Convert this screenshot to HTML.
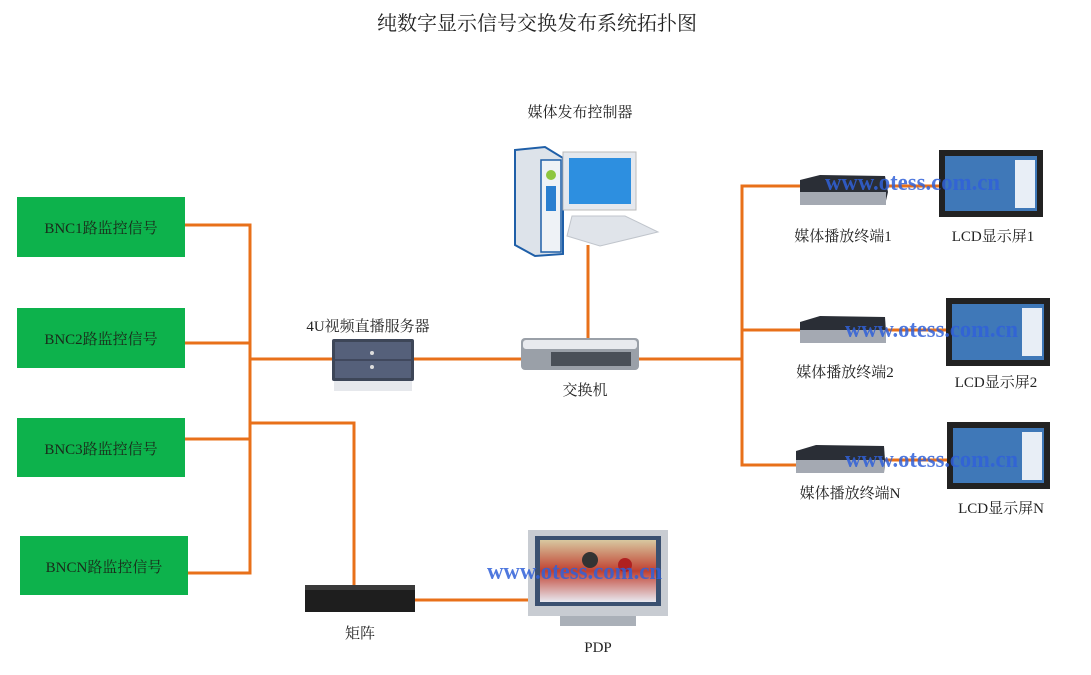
<!DOCTYPE html>
<html><head><meta charset="utf-8"><style>
html,body{margin:0;padding:0;background:#fff;}
body{width:1091px;height:670px;overflow:hidden;}
text{font-family:"Liberation Serif","Noto Serif CJK SC","Noto Sans CJK SC",serif;}
.lbl{font-size:15px;fill:#222;}
.g{font-size:15px;fill:#1a2a1a;}
.wm{font-family:"Liberation Serif",serif;font-weight:bold;font-size:24px;fill:#3060d8;fill-opacity:0.85;}
</style></head><body>
<svg width="1091" height="670" viewBox="0 0 1091 670" xmlns="http://www.w3.org/2000/svg">
<text x="537" y="30" text-anchor="middle" style="font-size:20px;fill:#222">纯数字显示信号交换发布系统拓扑图</text>

<g fill="#0db24c">
<rect x="17" y="197" width="168" height="60"/>
<rect x="17" y="308" width="168" height="60"/>
<rect x="17" y="418" width="168" height="59"/>
<rect x="20" y="536" width="168" height="59"/>
</g>
<text class="g" x="101" y="233" text-anchor="middle">BNC1路监控信号</text>
<text class="g" x="101" y="344" text-anchor="middle">BNC2路监控信号</text>
<text class="g" x="101" y="454" text-anchor="middle">BNC3路监控信号</text>
<text class="g" x="104" y="572" text-anchor="middle">BNCN路监控信号</text>

<g stroke="#e8701a" stroke-width="3" fill="none">
<polyline points="185,225 250,225 250,573 188,573"/>
<line x1="185" y1="343" x2="250" y2="343"/>
<line x1="185" y1="439" x2="250" y2="439"/>
<line x1="250" y1="359" x2="332" y2="359"/>
<polyline points="250,423 354,423 354,590"/>
<line x1="413" y1="359" x2="522" y2="359"/>
<line x1="588" y1="245" x2="588" y2="338"/>
<line x1="638" y1="359" x2="742" y2="359"/>
<polyline points="800,186 742,186 742,465 800,465"/>
<line x1="742" y1="330" x2="800" y2="330"/>
<line x1="885" y1="186" x2="940" y2="186"/>
<line x1="885" y1="330" x2="948" y2="330"/>
<line x1="885" y1="460" x2="948" y2="460"/>
<line x1="414" y1="600" x2="530" y2="600"/>
</g>

<text class="lbl" x="368" y="331" text-anchor="middle">4U视频直播服务器</text>
<rect x="332" y="339" width="82" height="42" rx="2" fill="#3d4658"/>
<rect x="335" y="342" width="76" height="36" fill="#55607a"/>
<line x1="335" y1="360" x2="411" y2="360" stroke="#2a3040"/>
<circle cx="372" cy="353" r="2" fill="#ddd"/><circle cx="372" cy="367" r="2" fill="#ddd"/>
<rect x="334" y="381" width="78" height="10" fill="#e6e8ec"/>

<text class="lbl" x="580" y="117" text-anchor="middle">媒体发布控制器</text>
<polygon points="515,150 545,147 563,158 563,254 535,256 515,245" fill="#dde3ea" stroke="#1f5fa8" stroke-width="2"/>
<rect x="541" y="160" width="20" height="92" fill="#eef2f6" stroke="#1f5fa8" stroke-width="1.5"/>
<circle cx="551" cy="175" r="5" fill="#8dc63f"/>
<rect x="546" y="186" width="10" height="25" fill="#2a7fd0"/>
<rect x="563" y="152" width="73" height="58" fill="#e4e8ee" stroke="#bbb"/>
<rect x="569" y="158" width="62" height="46" fill="#2d8fe0"/>
<polygon points="572,216 625,216 658,232 600,246 567,236" fill="#e0e4ea" stroke="#c0c5cc"/>

<rect x="521" y="338" width="118" height="32" rx="4" fill="#9aa0a8"/>
<rect x="523" y="340" width="114" height="9" rx="3" fill="#e8eaee"/>
<rect x="551" y="352" width="80" height="14" fill="#4a5058"/>
<text class="lbl" x="585" y="395" text-anchor="middle">交换机</text>

<g>
<polygon points="800,180 820,175 885,176 888,192 885,205 800,205" fill="#2a2e36"/>
<rect x="800" y="192" width="86" height="13" fill="#a4a9b2"/>
<polygon points="800,322 820,316 885,317 886,332 885,343 800,343" fill="#2a2e36"/>
<rect x="800" y="330" width="86" height="13" fill="#a4a9b2"/>
<polygon points="796,451 816,445 884,446 885,460 884,473 796,473" fill="#2a2e36"/>
<rect x="796" y="460" width="88" height="13" fill="#a4a9b2"/>
</g>
<text class="lbl" x="843" y="241" text-anchor="middle">媒体播放终端1</text>
<text class="lbl" x="845" y="377" text-anchor="middle">媒体播放终端2</text>
<text class="lbl" x="850" y="498" text-anchor="middle">媒体播放终端N</text>

<g>
<rect x="939" y="150" width="104" height="67" fill="#222"/>
<rect x="945" y="156" width="92" height="55" fill="#3f78b8"/>
<rect x="1015" y="160" width="20" height="48" fill="#e8eef6"/>
<rect x="946" y="298" width="104" height="68" fill="#222"/>
<rect x="952" y="304" width="92" height="56" fill="#3f78b8"/>
<rect x="1022" y="308" width="20" height="48" fill="#e8eef6"/>
<rect x="947" y="422" width="103" height="67" fill="#222"/>
<rect x="953" y="428" width="91" height="55" fill="#3f78b8"/>
<rect x="1022" y="432" width="20" height="48" fill="#e8eef6"/>
</g>
<text class="lbl" x="993" y="241" text-anchor="middle">LCD显示屏1</text>
<text class="lbl" x="996" y="387" text-anchor="middle">LCD显示屏2</text>
<text class="lbl" x="1001" y="513" text-anchor="middle">LCD显示屏N</text>

<rect x="305" y="585" width="110" height="27" fill="#1e1e1e"/>
<rect x="305" y="585" width="110" height="5" fill="#3a3a3a"/>
<text class="lbl" x="360" y="638" text-anchor="middle">矩阵</text>

<defs><linearGradient id="pg" x1="0" y1="0" x2="0" y2="1"><stop offset="0" stop-color="#d8c8a0"/><stop offset="0.5" stop-color="#c04030"/><stop offset="1" stop-color="#e8e8f0"/></linearGradient></defs>
<rect x="528" y="530" width="140" height="86" fill="#c8ccd2"/>
<rect x="535" y="536" width="126" height="70" fill="#3a5070"/>
<rect x="540" y="540" width="116" height="62" fill="url(#pg)"/>
<circle cx="590" cy="560" r="8" fill="#333"/><circle cx="625" cy="565" r="7" fill="#b02020"/>
<rect x="560" y="616" width="76" height="10" fill="#aab0b8"/>
<text class="lbl" x="598" y="652" text-anchor="middle">PDP</text>

<text class="wm" x="825" y="190" textLength="175" lengthAdjust="spacingAndGlyphs">www.otess.com.cn</text>
<text class="wm" x="845" y="337" textLength="173" lengthAdjust="spacingAndGlyphs">www.otess.com.cn</text>
<text class="wm" x="845" y="467" textLength="173" lengthAdjust="spacingAndGlyphs">www.otess.com.cn</text>
<text class="wm" x="487" y="579" textLength="175" lengthAdjust="spacingAndGlyphs">www.otess.com.cn</text>
</svg>
</body></html>
